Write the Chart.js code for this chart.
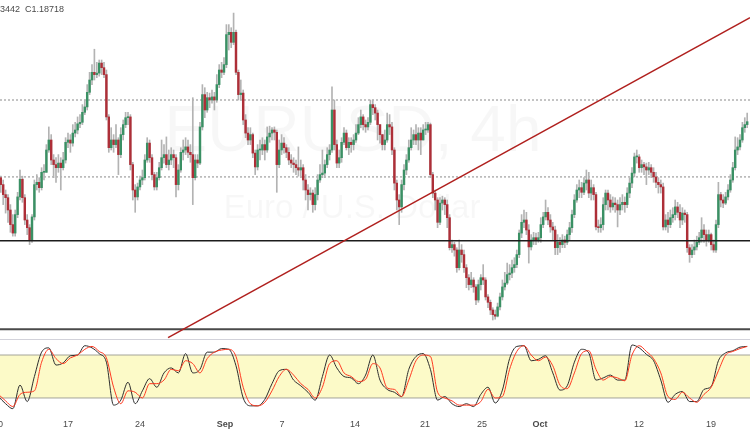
<!DOCTYPE html>
<html>
<head>
<meta charset="utf-8">
<script src="https://cdn.jsdelivr.net/npm/chart.js@4.4.1/dist/chart.umd.min.js"></script>
<style>
  html, body { margin: 0; padding: 0; background: #fff; width: 750px; height: 430px; overflow: hidden; }
  #wrap { position: relative; width: 750px; height: 430px; }
  #main { position: absolute; left: 0; top: 0; }
  #sep { position: absolute; left: 0; top: 339px; width: 750px; height: 1px; background: #d2d2da; }
  #stoch { position: absolute; left: 0; top: 340px; }
  #legend { position: absolute; left: 0; top: 4px; font: 9px "Liberation Sans", Arial, sans-serif; color: #4a4a4a; z-index: 2; }
</style>
</head>
<body>
<div id="wrap">
  <canvas id="main" width="750" height="339"></canvas>
  <div id="sep"></div>
  <canvas id="stoch" width="750" height="90"></canvas>
  <div id="legend"><span>3442</span><span style="margin-left:5px">C1.18718</span></div>
</div>
<script>
// EUR/USD 4h candles, Aug 10 - Oct 21 (bar 1 = first visible bar)
const firstOpen = 1.1803;
const closes = [
  1.1799,1.1790,1.1777,1.1773,1.1757,1.1738,1.1727,1.1751,1.1774,1.1797,
  1.1773,1.1744,1.1734,1.1718,1.1748,1.1790,1.1793,1.1786,1.1806,1.1806,
  1.1835,1.1848,1.1822,1.1816,1.1812,1.1818,1.1812,1.1822,1.1845,1.1848,
  1.1844,1.1857,1.1861,1.1869,1.1871,1.1884,1.1891,1.1910,1.1926,1.1936,
  1.1933,1.1935,1.1948,1.1942,1.1933,1.1878,1.1838,1.1848,1.1842,1.1848,
  1.1829,1.1855,1.1868,1.1877,1.1878,1.1816,1.1783,1.1774,1.1787,1.1796,
  1.1799,1.1822,1.1844,1.1825,1.1803,1.1787,1.1799,1.1812,1.1825,1.1829,
  1.1816,1.1822,1.1829,1.1825,1.1790,1.1809,1.1832,1.1835,1.1839,1.1832,
  1.1829,1.1799,1.1822,1.1818,1.1865,1.1907,1.1887,1.1903,1.1900,1.1904,
  1.1900,1.1920,1.1939,1.1936,1.1946,1.1985,1.1988,1.1975,1.1988,1.1936,
  1.1907,1.1909,1.1874,1.1857,1.1848,1.1855,1.1831,1.1813,1.1835,1.1835,
  1.1842,1.1835,1.1852,1.1857,1.1861,1.1858,1.1816,1.1835,1.1844,1.1838,
  1.1832,1.1822,1.1818,1.1816,1.1812,1.1809,1.1812,1.1796,1.1783,1.1777,
  1.1779,1.1764,1.1777,1.1796,1.1803,1.1805,1.1816,1.1829,1.1835,1.1887,
  1.1842,1.1818,1.1825,1.1845,1.1857,1.1838,1.1845,1.1842,1.1848,1.1857,
  1.1868,1.1878,1.1868,1.1865,1.1871,1.1894,1.1890,1.1883,1.1868,1.1855,
  1.1842,1.1848,1.1868,1.1865,1.1835,1.1792,1.1770,1.1761,1.1790,1.1809,
  1.1822,1.1838,1.1848,1.1855,1.1848,1.1857,1.1848,1.1861,1.1861,1.1868,
  1.1803,1.1779,1.1770,1.1741,1.1766,1.1770,1.1764,1.1747,1.1708,1.1712,
  1.1705,1.1682,1.1705,1.1699,1.1682,1.1669,1.1660,1.1666,1.1657,1.1640,
  1.1660,1.1669,1.1666,1.1644,1.1637,1.1627,1.1621,1.1619,1.1631,1.1644,
  1.1657,1.1662,1.1673,1.1675,1.1682,1.1686,1.1699,1.1727,1.1741,1.1744,
  1.1731,1.1709,1.1718,1.1721,1.1718,1.1721,1.1738,1.1748,1.1754,1.1744,
  1.1735,1.1731,1.1708,1.1715,1.1712,1.1718,1.1715,1.1725,1.1734,1.1751,
  1.1770,1.1783,1.1786,1.1780,1.1792,1.1796,1.1779,1.1786,1.1777,1.1735,
  1.1734,1.1738,1.1764,1.1779,1.1770,1.1761,1.1766,1.1764,1.1757,1.1764,
  1.1767,1.1764,1.1779,1.1792,1.1805,1.1826,1.1826,1.1812,1.1816,1.1813,
  1.1809,1.1812,1.1806,1.1800,1.1793,1.1790,1.1787,1.1735,1.1744,1.1738,
  1.1747,1.1751,1.1761,1.1754,1.1744,1.1753,1.1751,1.1708,1.1699,1.1705,
  1.1709,1.1715,1.1721,1.1731,1.1725,1.1718,1.1725,1.1712,1.1705,1.1738,
  1.1777,1.1770,1.1766,1.1774,1.1783,1.1796,1.1812,1.1835,1.1839,1.1848,
  1.1864,1.1868,1.18718
];
const highs = [
  1.1806,1.1801,1.1796,1.1783,1.1777,1.1764,1.1751,1.1757,1.1780,1.1809,
  1.1801,1.1777,1.1751,1.1738,1.1751,1.1796,1.1803,1.1799,1.1812,1.1816,
  1.1842,1.1865,1.1855,1.1829,1.1825,1.1829,1.1825,1.1832,1.1851,1.1857,
  1.1855,1.1868,1.1871,1.1878,1.1881,1.1894,1.1900,1.1920,1.1936,1.1946,
  1.1966,1.1949,1.1952,1.1952,1.1949,1.1939,1.1881,1.1864,1.1855,1.1868,
  1.1851,1.1864,1.1874,1.1884,1.1884,1.1881,1.1819,1.1790,1.1792,1.1801,
  1.1809,1.1829,1.1851,1.1848,1.1829,1.1806,1.1806,1.1819,1.1848,1.1842,
  1.1852,1.1835,1.1838,1.1835,1.1829,1.1816,1.1838,1.1848,1.1851,1.1848,
  1.1842,1.1903,1.1829,1.1829,1.1871,1.1920,1.1916,1.1910,1.1909,1.1913,
  1.1910,1.1933,1.1946,1.1949,1.1955,1.1998,1.1998,1.1994,1.2013,1.1991,
  1.1939,1.1926,1.1913,1.1881,1.1864,1.1864,1.1857,1.1835,1.1842,1.1848,
  1.1851,1.1848,1.1865,1.1866,1.1864,1.1865,1.1861,1.1848,1.1855,1.1851,
  1.1842,1.1838,1.1829,1.1825,1.1822,1.1839,1.1822,1.1816,1.1803,1.1790,
  1.1786,1.1783,1.1786,1.1803,1.1816,1.1835,1.1822,1.1838,1.1842,1.1917,
  1.1900,1.1848,1.1835,1.1851,1.1864,1.1861,1.1851,1.1851,1.1855,1.1868,
  1.1877,1.1887,1.1881,1.1874,1.1877,1.1900,1.1900,1.1894,1.1887,1.1868,
  1.1855,1.1861,1.1883,1.1881,1.1871,1.1838,1.1796,1.1777,1.1796,1.1816,
  1.1829,1.1848,1.1864,1.1861,1.1868,1.1864,1.1864,1.1868,1.1871,1.1871,
  1.1870,1.1806,1.1783,1.1773,1.1773,1.1775,1.1773,1.1770,1.1751,1.1718,
  1.1715,1.1708,1.1718,1.1712,1.1705,1.1686,1.1673,1.1676,1.1669,1.1660,
  1.1666,1.1673,1.1686,1.1669,1.1647,1.1640,1.1630,1.1627,1.1636,1.1649,
  1.1666,1.1676,1.1688,1.1686,1.1692,1.1695,1.1705,1.1731,1.1751,1.1757,
  1.1754,1.1738,1.1725,1.1728,1.1727,1.1728,1.1747,1.1754,1.1770,1.1760,
  1.1751,1.1741,1.1736,1.1725,1.1721,1.1725,1.1723,1.1731,1.1741,1.1757,
  1.1777,1.1790,1.1796,1.1793,1.1799,1.1809,1.1806,1.1796,1.1790,1.1780,
  1.1744,1.1747,1.1773,1.1783,1.1783,1.1777,1.1774,1.1773,1.1770,1.1773,
  1.1777,1.1774,1.1786,1.1799,1.1812,1.1831,1.1835,1.1829,1.1822,1.1819,
  1.1818,1.1819,1.1816,1.1812,1.1806,1.1799,1.1796,1.1792,1.1751,1.1754,
  1.1757,1.1760,1.1770,1.1767,1.1764,1.1760,1.1757,1.1754,1.1712,1.1712,
  1.1718,1.1723,1.1728,1.1747,1.1738,1.1731,1.1731,1.1727,1.1718,1.1744,
  1.1793,1.1780,1.1777,1.1780,1.1790,1.1803,1.1819,1.1852,1.1851,1.1855,
  1.1871,1.1877,1.1883
];
const lows = [
  1.1790,1.1780,1.1764,1.1753,1.1741,1.1728,1.1723,1.1723,1.1747,1.1770,
  1.1767,1.1738,1.1725,1.1712,1.1715,1.1744,1.1783,1.1780,1.1783,1.1796,
  1.1806,1.1832,1.1816,1.1799,1.1793,1.1806,1.1783,1.1809,1.1818,1.1838,
  1.1832,1.1840,1.1852,1.1856,1.1864,1.1868,1.1881,1.1887,1.1907,1.1920,
  1.1926,1.1929,1.1931,1.1933,1.1929,1.1874,1.1832,1.1835,1.1832,1.1838,
  1.1803,1.1825,1.1848,1.1864,1.1868,1.1809,1.1770,1.1754,1.1770,1.1783,
  1.1790,1.1796,1.1819,1.1819,1.1796,1.1783,1.1783,1.1796,1.1809,1.1818,
  1.1812,1.1809,1.1816,1.1812,1.1774,1.1783,1.1806,1.1822,1.1829,1.1825,
  1.1819,1.1764,1.1796,1.1812,1.1816,1.1861,1.1877,1.1884,1.1890,1.1896,
  1.1887,1.1897,1.1916,1.1929,1.1933,1.1942,1.1965,1.1968,1.1972,1.1933,
  1.1900,1.1900,1.1868,1.1851,1.1842,1.1842,1.1825,1.1803,1.1809,1.1822,
  1.1829,1.1822,1.1832,1.1845,1.1848,1.1848,1.1780,1.1812,1.1829,1.1831,
  1.1825,1.1816,1.1812,1.1806,1.1803,1.1801,1.1799,1.1783,1.1770,1.1757,
  1.1770,1.1754,1.1757,1.1770,1.1793,1.1799,1.1799,1.1812,1.1822,1.1832,
  1.1835,1.1812,1.1812,1.1819,1.1842,1.1835,1.1829,1.1832,1.1835,1.1845,
  1.1855,1.1864,1.1861,1.1858,1.1861,1.1868,1.1881,1.1874,1.1848,1.1844,
  1.1835,1.1835,1.1845,1.1855,1.1829,1.1783,1.1757,1.1738,1.1754,1.1783,
  1.1803,1.1819,1.1835,1.1842,1.1842,1.1835,1.1829,1.1848,1.1855,1.1858,
  1.1799,1.1773,1.1757,1.1734,1.1738,1.1757,1.1751,1.1734,1.1705,1.1702,
  1.1697,1.1676,1.1679,1.1689,1.1676,1.1656,1.1653,1.1656,1.1650,1.1634,
  1.1637,1.1653,1.1660,1.1640,1.1630,1.1621,1.1614,1.1615,1.1618,1.1627,
  1.1640,1.1653,1.1660,1.1666,1.1669,1.1676,1.1682,1.1695,1.1721,1.1734,
  1.1725,1.1688,1.1705,1.1712,1.1712,1.1715,1.1715,1.1734,1.1744,1.1738,
  1.1728,1.1718,1.1699,1.1699,1.1702,1.1708,1.1708,1.1712,1.1718,1.1728,
  1.1747,1.1767,1.1773,1.1773,1.1777,1.1783,1.1773,1.1770,1.1770,1.1731,
  1.1728,1.1728,1.1731,1.1757,1.1757,1.1754,1.1757,1.1754,1.1735,1.1751,
  1.1757,1.1754,1.1760,1.1773,1.1786,1.1800,1.1818,1.1806,1.1806,1.1803,
  1.1790,1.1803,1.1799,1.1793,1.1786,1.1779,1.1779,1.1731,1.1731,1.1728,
  1.1734,1.1741,1.1744,1.1747,1.1734,1.1738,1.1741,1.1702,1.1689,1.1695,
  1.1699,1.1705,1.1712,1.1715,1.1715,1.1710,1.1715,1.1705,1.1702,1.1702,
  1.1734,1.1761,1.1760,1.1764,1.1770,1.1780,1.1793,1.1809,1.1829,1.1835,
  1.1845,1.1858,1.1864
];

// horizontal levels drawn on the chart
const dottedLevels = [1.1900, 1.1800];
const solidLevels = [1.1717];
const lowerLevel = 1.1602;
// trend line (bar index, price)
const trendBars = [71.7, 314.2];
const trendPrices = [1.1591, 1.2007];

// stochastic, sampled every 3rd bar
const stochK = [
  22,12,5,38,15,50,84,90,66,69,
  79,80,93,90,82,70,10,17,42,12,
  30,47,35,55,62,55,82,55,60,84,
  84,89,88,65,20,9,9,18,40,58,
  60,45,37,28,17,50,80,62,50,48,
  40,52,80,45,32,28,22,60,78,82,
  60,17,22,12,8,12,8,25,35,13,
  31,75,92,93,72,74,79,55,31,37,
  70,88,83,45,48,52,45,45,94,90,
  81,72,45,14,25,29,15,15,32,36,
  72,83,86,91,92
];
const stochD = [
  25,16,8,25,28,30,70,88,75,68,
  76,80,88,92,85,76,35,12,30,28,
  20,40,40,45,60,58,72,68,55,75,
  84,87,88,78,35,12,9,14,30,50,
  60,52,40,32,20,35,68,72,55,50,
  43,46,68,62,34,32,22,45,72,80,
  78,28,20,16,10,10,10,15,32,20,
  22,60,85,93,80,72,77,65,38,33,
  55,82,86,60,45,50,48,44,80,93,
  85,75,55,22,18,28,20,14,25,35,
  58,80,85,89,92
];
const stochBands = [80, 20];

// time axis labels and the bar positions they sit on
const tickLabels = ['10', '17', '24', 'Sep', '7', '14', '21', '25', 'Oct', '12', '19'];
const tickBars = [0.8, 30, 60, 95.4, 119.2, 149.6, 178.8, 202.5, 226.7, 267.9, 297.9];
const boldLabels = ['Sep', 'Oct'];

const xMin = 1.667, xMax = 314.17;
const yMin = 1.15893, yMax = 1.2030;

const upColor = '#3a9064';
const downColor = '#ad2f38';

const bars = closes.map((_, k) => k + 1);
const opens = [firstOpen].concat(closes.slice(0, -1));

function hline(level, color, width, dash, order) {
  return {
    type: 'line',
    data: [{ x: xMin, y: level }, { x: xMax, y: level }],
    borderColor: color, borderWidth: width, borderDash: dash,
    pointRadius: 0, order: order
  };
}

const watermark = {
  id: 'watermark',
  beforeDatasetsDraw(chart) {
    const ctx = chart.ctx;
    ctx.save();
    ctx.fillStyle = 'rgba(0,0,0,0.03)';
    ctx.textAlign = 'center';
    ctx.textBaseline = 'middle';
    ctx.font = '64px "Liberation Sans", Arial, sans-serif';
    ctx.fillText('EURUSD, 4h', 353, 133);
    ctx.font = '33px "Liberation Sans", Arial, sans-serif';
    ctx.fillText('Euro / U.S. Dollar', 352, 209);
    ctx.restore();
  }
};

const mainData = [
  hline(dottedLevels[0], '#8a8a8a', 1, [2, 2], 6),
  hline(dottedLevels[1], '#8a8a8a', 1, [2, 2], 6),
  {
    type: 'bar',
    data: bars.map((b, k) => ({ x: b, y: [lows[k], highs[k]] })),
    backgroundColor: '#b3b3b3',
    barThickness: 1,
    grouped: false,
    order: 5
  },
  {
    type: 'bar',
    data: bars.map((b, k) => ({ x: b, y: [opens[k], closes[k]] })),
    backgroundColor: closes.map((c, k) => c >= opens[k] ? upColor : downColor),
    barThickness: 1.8,
    minBarLength: 1,
    grouped: false,
    order: 4
  },
  hline(solidLevels[0], '#1c1c1c', 1.6, [], 3),
  hline(lowerLevel, '#4a4a4a', 2, [], 3),
  {
    type: 'line',
    data: trendBars.map((b, k) => ({ x: b, y: trendPrices[k] })),
    borderColor: '#b0201e',
    borderWidth: 1.5,
    pointRadius: 0,
    order: 1
  }
];

new Chart(document.getElementById('main'), {
  type: 'bar',
  data: { datasets: mainData },
  options: {
    responsive: false,
    animation: false,
    events: [],
    layout: { padding: 0 },
    plugins: { legend: { display: false }, tooltip: { enabled: false } },
    scales: {
      x: { type: 'linear', min: xMin, max: xMax, offset: false, display: false },
      y: { min: yMin, max: yMax, display: false }
    }
  },
  plugins: [watermark]
});

const stochBars = stochK.map((_, k) => 1 + k * 3);

new Chart(document.getElementById('stoch'), {
  type: 'line',
  data: {
    datasets: [
      {
        data: [{ x: xMin, y: stochBands[0] }, { x: xMax, y: stochBands[0] }],
        borderColor: '#a3a399', borderWidth: 1, pointRadius: 0,
        fill: '+1', backgroundColor: 'rgba(252,249,190,0.85)', order: 4
      },
      {
        data: [{ x: xMin, y: stochBands[1] }, { x: xMax, y: stochBands[1] }],
        borderColor: '#a3a399', borderWidth: 1, pointRadius: 0, fill: false, order: 3
      },
      {
        data: stochBars.map((b, k) => ({ x: b, y: stochK[k] })),
        borderColor: '#2e2e2e', borderWidth: 1, pointRadius: 0,
        cubicInterpolationMode: 'monotone', fill: false, order: 2
      },
      {
        data: stochBars.map((b, k) => ({ x: b, y: stochD[k] })),
        borderColor: '#ff3a22', borderWidth: 1, pointRadius: 0,
        cubicInterpolationMode: 'monotone', fill: false, order: 1
      }
    ]
  },
  options: {
    responsive: false,
    animation: false,
    events: [],
    layout: { padding: { top: 0.7, left: 0, right: 0, bottom: 0 } },
    plugins: { legend: { display: false }, tooltip: { enabled: false } },
    scales: {
      x: {
        type: 'linear', min: xMin, max: xMax, offset: false,
        afterBuildTicks: (scale) => { scale.ticks = tickBars.map(v => ({ value: v })); },
        afterFit: (scale) => {
          scale.height = 17.7;
          scale.paddingLeft = 0;
          scale.paddingRight = 0;
        },
        grid: { display: false, drawTicks: false },
        border: { display: false },
        ticks: {
          autoSkip: false, maxRotation: 0, padding: 7, color: '#4a4a4a',
          font: (c) => ({
            family: '"Liberation Sans", Arial, sans-serif', size: 9,
            weight: boldLabels.includes(tickLabels[c.index]) ? 'bold' : 'normal'
          }),
          callback: (v, i) => tickLabels[i]
        }
      },
      y: { min: 0, max: 100, display: false }
    }
  }
});
</script>
</body>
</html>
